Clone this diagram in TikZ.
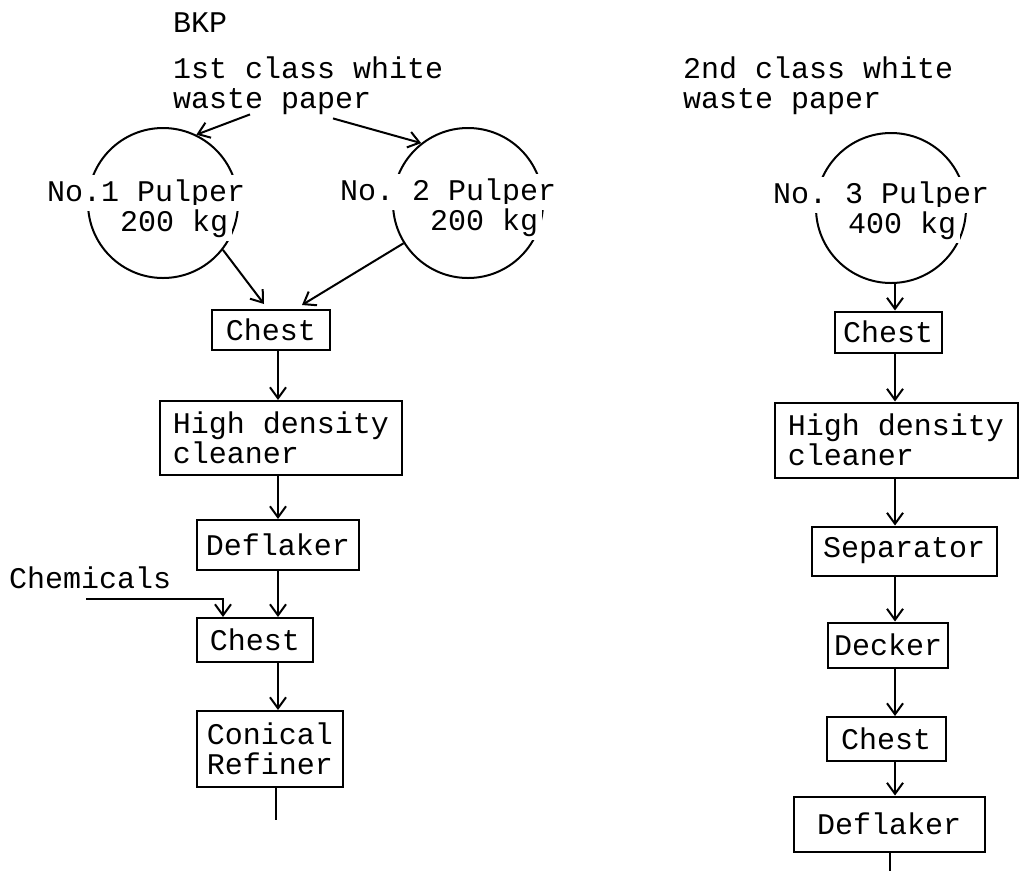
\documentclass[tikz,border=0pt]{standalone}
\usepackage{fontspec}
\setmonofont{Liberation Mono}
\usepackage{tikz}
\usetikzlibrary{arrows.meta,calc}
\tikzset{
    unit-box/.style = {draw, rectangle, line width=2pt, inner sep=0pt, align=left},
    pulper-circle/.style = {draw, circle, line width=2pt, minimum size=150pt, inner sep=0pt},
    pulper-label/.style = {fill=white, anchor=base west, inner sep=4pt},
    feed-label/.style = {anchor=base west, inner sep=0pt, align=left},
    flow-arrow/.style = {line width=2pt, -{Straight Barb[length=11pt,width=16pt,line width=2pt]}},
    flow-line/.style = {line width=2pt},
}

\begin{document}
\begin{tikzpicture}[x=1pt, y=-1pt, font=\ttfamily\frenchspacing\fontsize{30}{30}\selectfont]
\useasboundingbox (0,0) rectangle (1019,871);

% feeds (base is the last line)
\node[feed-label] (bkp) at (173,32) {BKP};
\node[feed-label] (paperA) at (173,108) {1st class white\\waste paper};
\node[feed-label] (paperB) at (683,108) {2nd class white\\waste paper};
\node[feed-label] (chem) at (9,588) {Chemicals};

% pulpers
\node[pulper-circle] (pulpA) at (163,203) {};
\node[pulper-circle] (pulpB) at (468,203) {};
\node[pulper-circle] (pulpC) at (891,208) {};
\node[pulper-label] (nameA) at (43,201) {No.1 Pulper};
\node[pulper-label] (loadA) at (116,231) {200 kg};
\node[pulper-label] (nameB) at (336,200) {No. 2 Pulper};
\node[pulper-label] (loadB) at (426,230) {200 kg};
\node[pulper-label] (nameC) at (769,203) {No. 3 Pulper};
\node[pulper-label] (loadC) at (844,233) {400 kg};

% 1st class line
\node[unit-box, minimum width=118pt, minimum height=40pt] (chestA) at (271,330) {Chest};
\node[unit-box, minimum width=242pt, minimum height=74pt] (hdcA) at (281,438) {High density\\cleaner};
\node[unit-box, minimum width=162pt, minimum height=50pt] (deflA) at (278,545) {Deflaker};
\node[unit-box, minimum width=116pt, minimum height=44pt] (chestB) at (255,640) {Chest};
\node[unit-box, minimum width=146pt, minimum height=76pt] (refA) at (270,749) {Conical\\Refiner};

% 2nd class line
\node[unit-box, minimum width=107pt, minimum height=41pt] (chestC) at (888,332) {Chest};
\node[unit-box, minimum width=243pt, minimum height=75pt] (hdcB) at (896,440) {High density\\cleaner};
\node[unit-box, minimum width=185pt, minimum height=49pt] (sepB) at (904,551) {Separator};
\node[unit-box, minimum width=120pt, minimum height=45pt] (deckB) at (888,645) {Decker};
\node[unit-box, minimum width=119pt, minimum height=44pt] (chestD) at (886,739) {Chest};
\node[unit-box, minimum width=191pt, minimum height=55pt] (deflB) at (889,824) {Deflaker};

\coordinate (colL) at (278,0);
\coordinate (colR) at (895,0);
\coordinate (endL) at (276,820);
\coordinate (endR) at (890,871);

% connectors
\draw[flow-arrow] ($(paperA.south west)+(77,0)$) -- (pulpA.64);
\draw[flow-arrow] ($(paperA.south west)+(160,4)$) -- (pulpB.128);
\draw[flow-arrow] (pulpA.-38) -- ($(chestA.north west)+(53,-5)$);
\draw[flow-arrow] (pulpB.212) -- ($(chestA.north west)+(91,-4)$);
\draw[flow-arrow] (chestA.south -| colL) -- (hdcA.north -| colL);
\draw[flow-arrow] (hdcA.south -| colL) -- (deflA.north -| colL);
\draw[flow-arrow] (deflA.south -| colL) -- (chestB.north -| colL);
\draw[flow-arrow] ($(chem.south west)+(77,10)$) -| ($(chestB.north west)+(27,0)$);
\draw[flow-arrow] (chestB.south -| colL) -- (refA.north -| colL);
\draw[flow-line] (refA.south -| endL) -- (endL);

\draw[flow-arrow] (pulpC.south -| colR) -- (chestC.north -| colR);
\draw[flow-arrow] (chestC.south -| colR) -- (hdcB.north -| colR);
\draw[flow-arrow] (hdcB.south -| colR) -- (sepB.north -| colR);
\draw[flow-arrow] (sepB.south -| colR) -- (deckB.north -| colR);
\draw[flow-arrow] (deckB.south -| colR) -- (chestD.north -| colR);
\draw[flow-arrow] (chestD.south -| colR) -- (deflB.north -| colR);
\draw[flow-line] (deflB.south -| endR) -- (endR);
\end{tikzpicture}
\end{document}
